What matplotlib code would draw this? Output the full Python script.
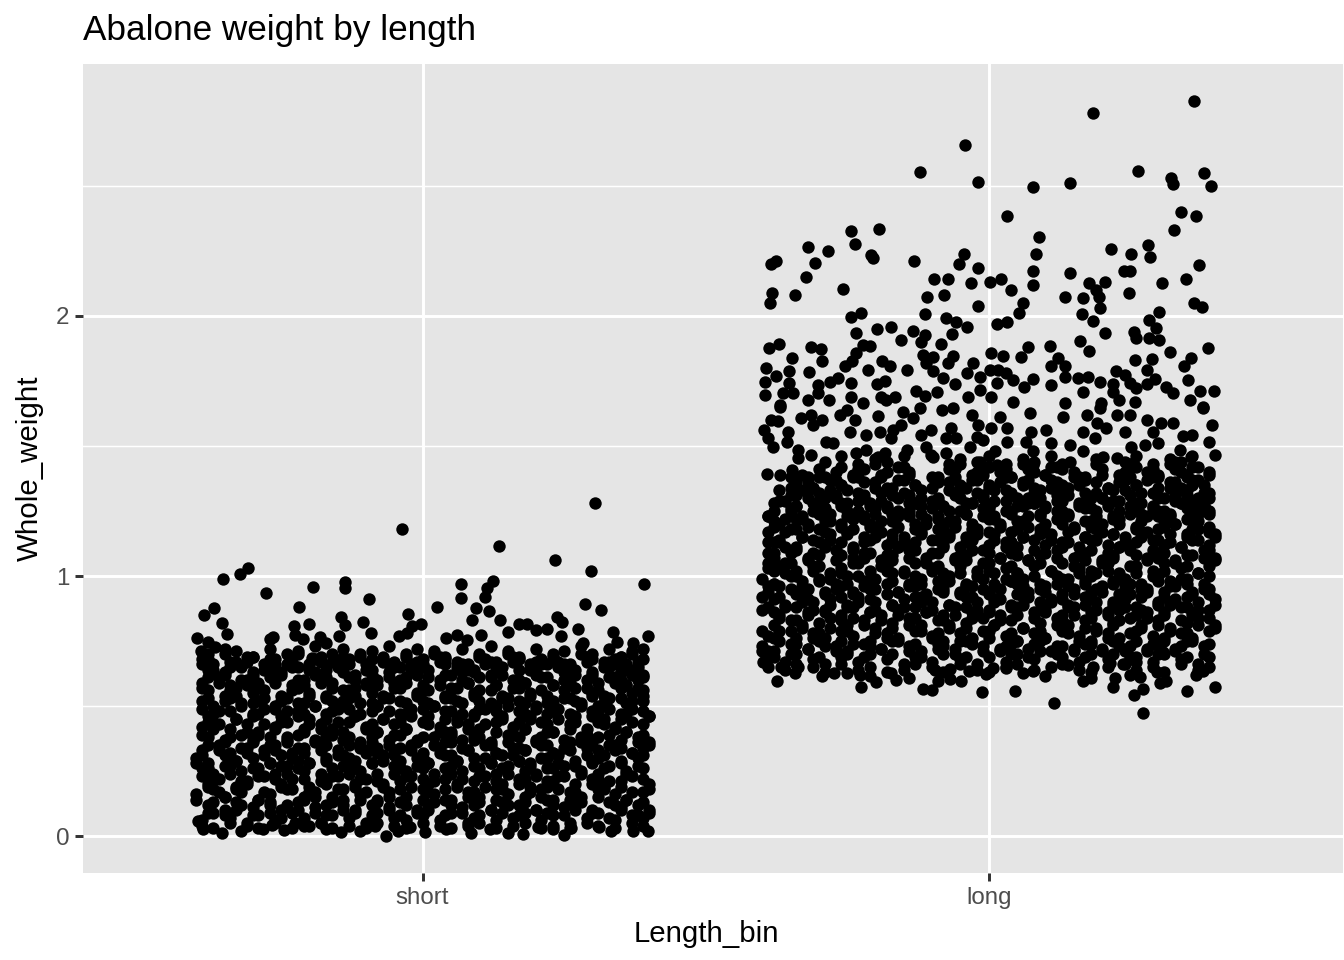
import numpy as np
import matplotlib
matplotlib.use('Agg')
import matplotlib.pyplot as plt

plt.rcParams['font.family'] = ['Liberation Sans', 'DejaVu Sans']

categories = ['short', 'long']
y_ticks = [0, 1, 2]
y_minor = [0.5, 1.5, 2.5]

# jitter offsets from the category centre and weights
# short: single points above the block
short_top_x = [-.037,.305,.135,.234,.298,.391,-.309,-.323,-.353,-.276,-.193,-.138,-.138,-.094,-.219,-.369,-.387,-.355,-.346,.067,.067,.124,.113,.11,.025,.286,.316,-.025,-.145,-.138,-.2,-.228,-.106,-.092,.094,.088,.117,.136,.171,.184,.15,.237,.246,.201,.219,.244,.274,.283,.337,.398,.371,.343,-.399,-.38,-.366,-.392,-.265,-.27,-.226,-.212,-.182,-.17,-.147,-.041,-.028,-.018,-.002,.104,.06,.042,.078,-.196]
short_top_y = [1.18,1.28,1.115,1.06,1.02,.97,1.03,1.007,.988,.935,.957,.977,.954,.911,.881,.877,.85,.819,.777,.969,.915,.981,.954,.919,.881,.892,.869,.854,.842,.812,.815,.808,.823,.781,.877,.831,.865,.831,.815,.815,.785,.842,.823,.792,.796,.769,.796,.742,.785,.769,.742,.746,.762,.746,.727,.712,.765,.758,.773,.758,.765,.742,.769,.769,.781,.808,.815,.773,.773,.762,.754,.685]

# short: bottom edge of the block
short_low_x = [-.397,-.388,-.354,-.321,-.282,-.266,-.245,-.226,-.2,-.17,-.144,-.111,-.085,-.065,-.044,-.023,.004,.042,.086,.119,.15,.177,.203,.231,.249,.263,.311,.333,.371,.398]
short_low_y = [.059,.026,.013,.019,.026,.042,.023,.049,.038,.026,.017,.02,.038,0,.02,.036,.017,.026,.013,.028,.013,.008,.036,.028,.005,.03,.034,.02,.018,.02]

# short: dense block
short_core_x = [
-.39,-.37,-.34,-.31,-.29,-.26,-.23,-.21,-.18,-.16,-.13,-.10,-.08,-.05,-.03,.00,.03,.05,.08,.10,.13,.16,.18,.21,.23,.26,.29,.31,.34,.37,.39,
-.38,-.35,-.33,-.30,-.27,-.25,-.22,-.19,-.17,-.14,-.12,-.09,-.06,-.04,-.01,.01,.04,.07,.09,.12,.14,.17,.20,.22,.25,.27,.30,.33,.35,.38,.40,
-.40,-.37,-.35,-.32,-.29,-.27,-.24,-.21,-.19,-.16,-.14,-.11,-.08,-.06,-.03,.00,.02,.05,.08,.10,.13,.15,.18,.21,.23,.26,.28,.31,.34,.36,.39,
-.38,-.36,-.33,-.31,-.28,-.25,-.23,-.20,-.17,-.15,-.12,-.10,-.07,-.04,-.02,.01,.04,.06,.09,.11,.14,.17,.19,.22,.24,.27,.30,.32,.35,.37,.40,
-.39,-.37,-.34,-.32,-.29,-.26,-.24,-.21,-.18,-.16,-.13,-.11,-.08,-.05,-.03,.00,.02,.05,.07,.10,.13,.15,.18,.20,.23,.25,.28,.31,.33,.36,.39,
-.40,-.38,-.35,-.33,-.30,-.27,-.25,-.22,-.20,-.17,-.14,-.12,-.09,-.07,-.04,-.01,.01,.04,.06,.09,.12,.14,.17,.19,.22,.24,.27,.30,.32,.35,.38,
-.39,-.36,-.34,-.31,-.28,-.26,-.23,-.21,-.18,-.15,-.13,-.10,-.08,-.05,-.02,.00,.03,.05,.08,.11,.13,.16,.18,.21,.23,.26,.29,.31,.34,.37,.39,
-.38,-.35,-.32,-.30,-.27,-.24,-.22,-.19,-.17,-.14,-.11,-.09,-.06,-.04,-.01,.02,.04,.07,.09,.12,.15,.17,.20,.22,.25,.28,.30,.33,.35,.38,.40,
-.39,-.37,-.34,-.31,-.29,-.26,-.24,-.21,-.18,-.16,-.13,-.10,-.08,-.05,-.03,.00,.03,.05,.08,.10,.13,.16,.18,.21,.23,.26,.29,.31,.34,.36,.39,
-.38,-.36,-.33,-.30,-.28,-.25,-.22,-.20,-.17,-.15,-.12,-.09,-.07,-.04,-.02,.01,.04,.06,.09,.11,.14,.17,.19,.22,.24,.27,.30,.32,.35,.37,.40,
-.39,-.37,-.34,-.32,-.29,-.26,-.24,-.21,-.19,-.16,-.13,-.11,-.08,-.06,-.03,.00,.02,.05,.07,.10,.13,.15,.18,.20,.23,.26,.28,.31,.33,.36,.39,
-.38,-.35,-.33,-.30,-.28,-.25,-.22,-.20,-.17,-.14,-.12,-.09,-.07,-.04,-.01,.01,.04,.06,.09,.12,.14,.17,.19,.22,.25,.27,.30,.32,.35,.37,.39,
-.39,-.36,-.34,-.31,-.29,-.26,-.23,-.21,-.18,-.16,-.13,-.10,-.08,-.05,-.03,.00,.03,.05,.08,.10,.13,.16,.18,.21,.23,.26,.29,.31,.34,.36,.38,
-.38,-.35,-.32,-.30,-.27,-.25,-.22,-.19,-.17,-.14,-.12,-.09,-.06,-.04,-.01,.01,.04,.07,.09,.12,.14,.17,.20,.22,.25,.27,.30,.33,.35,.37,.39,
-.39,-.37,-.34,-.31,-.28,-.26,-.23,-.20,-.18,-.15,-.13,-.10,-.07,-.05,-.02,.00,.03,.06,.08,.11,.13,.16,.19,.21,.24,.26,.29,.32,.34,.36,.38,
-.38,-.35,-.33,-.30,-.27,-.24,-.22,-.19,-.16,-.14,-.11,-.09,-.06,-.03,-.01,.02,.04,.07,.10,.12,.15,.17,.20,.23,.25,.28,.30,.33,.35,.37,.39,
]
short_core_y = [
.06,.09,.07,.05,.08,.06,.09,.07,.05,.08,.07,.05,.09,.07,.06,.08,.06,.09,.05,.08,.06,.07,.09,.06,.08,.05,.07,.09,.06,.08,.07,
.12,.10,.13,.11,.12,.10,.13,.11,.12,.14,.10,.12,.11,.13,.10,.12,.14,.11,.12,.10,.13,.12,.10,.14,.11,.12,.10,.13,.11,.12,.10,
.16,.18,.15,.17,.14,.16,.18,.15,.17,.15,.18,.16,.14,.17,.15,.18,.16,.14,.17,.15,.18,.16,.15,.18,.14,.17,.15,.18,.16,.14,.17,
.20,.22,.19,.21,.23,.20,.22,.19,.21,.23,.20,.22,.19,.21,.23,.20,.22,.19,.21,.23,.20,.22,.19,.21,.23,.20,.22,.19,.21,.23,.20,
.26,.24,.27,.25,.26,.24,.27,.25,.24,.26,.27,.25,.24,.27,.25,.26,.24,.27,.25,.26,.24,.27,.25,.24,.26,.27,.25,.24,.27,.25,.26,
.30,.28,.31,.29,.30,.28,.31,.29,.28,.30,.31,.29,.28,.31,.29,.30,.28,.31,.29,.30,.28,.31,.29,.28,.30,.31,.29,.28,.31,.29,.30,
.33,.35,.32,.34,.33,.35,.32,.34,.36,.33,.35,.32,.34,.33,.35,.32,.34,.36,.33,.35,.32,.34,.33,.35,.32,.36,.34,.33,.35,.32,.34,
.38,.36,.39,.37,.38,.36,.39,.37,.38,.40,.36,.38,.37,.39,.36,.38,.40,.37,.38,.36,.39,.38,.36,.40,.37,.38,.36,.39,.37,.38,.36,
.42,.44,.41,.43,.40,.42,.44,.41,.43,.41,.44,.42,.40,.43,.41,.44,.42,.40,.43,.41,.44,.42,.41,.44,.40,.43,.41,.44,.42,.40,.43,
.46,.48,.45,.47,.49,.46,.48,.45,.47,.49,.46,.48,.45,.47,.49,.46,.48,.45,.47,.49,.46,.48,.45,.47,.49,.46,.48,.45,.47,.49,.46,
.52,.50,.53,.51,.52,.50,.53,.51,.50,.52,.53,.51,.50,.53,.51,.52,.50,.53,.51,.52,.50,.53,.51,.50,.52,.53,.51,.50,.53,.51,.52,
.56,.54,.57,.55,.56,.54,.57,.55,.54,.56,.57,.55,.54,.57,.55,.56,.54,.57,.55,.56,.54,.57,.55,.54,.56,.57,.55,.54,.57,.55,.56,
.59,.61,.58,.60,.59,.61,.58,.60,.62,.59,.61,.58,.60,.59,.61,.58,.60,.62,.59,.61,.58,.60,.59,.61,.58,.62,.60,.59,.61,.58,.60,
.64,.62,.65,.63,.64,.62,.65,.63,.64,.66,.62,.64,.63,.65,.62,.64,.66,.63,.64,.62,.65,.64,.62,.66,.63,.64,.62,.65,.63,.64,.62,
.68,.66,.67,.69,.66,.68,.67,.66,.69,.67,.68,.66,.69,.67,.66,.68,.69,.67,.66,.68,.67,.69,.66,.68,.67,.66,.69,.67,.68,.66,.67,
.70,.72,.71,.69,.72,.70,.71,.73,.70,.72,.69,.71,.73,.70,.72,.71,.69,.72,.70,.73,.71,.69,.72,.70,.71,.73,.70,.72,.69,.71,.72,
]
# second column of weights for the same jitter offsets, fills the block
short_fill_y = [
.04,.03,.05,.04,.03,.05,.03,.04,.05,.03,.04,.03,.05,.04,.03,.05,.04,.03,.04,.05,.03,.04,.05,.03,.04,.03,.05,.04,.03,.05,.04,
.09,.08,.10,.08,.09,.07,.10,.09,.08,.10,.09,.08,.10,.08,.09,.10,.08,.09,.07,.10,.09,.08,.10,.09,.08,.10,.09,.07,.10,.08,.09,
.14,.13,.15,.12,.14,.13,.12,.14,.15,.13,.12,.14,.13,.15,.12,.14,.13,.12,.15,.13,.14,.12,.13,.15,.12,.14,.13,.15,.12,.14,.13,
.19,.17,.18,.20,.17,.19,.18,.17,.20,.18,.19,.17,.20,.18,.19,.17,.18,.20,.17,.19,.18,.20,.17,.19,.18,.17,.20,.18,.19,.17,.18,
.23,.22,.24,.21,.23,.22,.24,.22,.21,.23,.24,.22,.21,.24,.23,.22,.21,.24,.22,.23,.21,.24,.22,.23,.21,.23,.24,.22,.21,.24,.22,
.28,.26,.27,.29,.26,.28,.27,.26,.28,.29,.27,.26,.28,.29,.26,.27,.28,.26,.29,.27,.28,.26,.29,.27,.26,.28,.27,.29,.26,.28,.27,
.31,.33,.30,.32,.31,.33,.30,.32,.33,.31,.30,.33,.32,.31,.33,.30,.32,.31,.33,.30,.32,.31,.33,.30,.32,.33,.31,.30,.33,.32,.31,
.35,.37,.34,.36,.35,.37,.34,.36,.35,.37,.34,.36,.35,.34,.37,.35,.36,.34,.37,.35,.36,.34,.37,.35,.34,.36,.37,.35,.34,.36,.35,
.39,.41,.38,.40,.39,.41,.38,.40,.41,.39,.38,.41,.40,.39,.41,.38,.40,.39,.41,.38,.40,.39,.41,.38,.40,.41,.39,.38,.41,.40,.39,
.44,.43,.45,.46,.43,.44,.46,.43,.45,.44,.46,.43,.45,.44,.46,.43,.45,.44,.46,.43,.45,.44,.46,.43,.45,.44,.46,.43,.45,.44,.46,
.49,.47,.48,.50,.47,.49,.48,.47,.50,.48,.49,.47,.50,.48,.47,.49,.50,.48,.47,.49,.48,.50,.47,.49,.48,.47,.50,.48,.49,.47,.48,
.53,.52,.54,.51,.53,.52,.51,.54,.53,.52,.54,.51,.53,.52,.54,.51,.53,.52,.54,.51,.53,.52,.54,.51,.53,.52,.54,.51,.53,.52,.54,
.57,.59,.56,.58,.57,.59,.56,.58,.59,.57,.56,.59,.58,.57,.59,.56,.58,.57,.59,.56,.58,.57,.59,.56,.58,.59,.57,.56,.59,.58,.57,
.61,.63,.60,.62,.61,.63,.60,.62,.61,.63,.60,.62,.61,.60,.63,.61,.62,.60,.63,.61,.62,.60,.63,.61,.60,.62,.63,.61,.60,.62,.61,
.66,.64,.65,.67,.64,.66,.65,.64,.67,.65,.66,.64,.67,.65,.64,.66,.67,.65,.64,.66,.65,.67,.64,.66,.65,.64,.67,.65,.66,.64,.65,
.68,.70,.67,.69,.68,.66,.70,.68,.67,.69,.70,.68,.66,.69,.67,.70,.68,.66,.69,.67,.70,.68,.67,.69,.66,.70,.68,.67,.69,.70,.68,
]

# long: single points above the block
long_top_x = [.184,.363,-.042,-.122,-.018,.079,.143,.263,.323,.325,.38,.392,.033,.34,.366,.328,.089,-.193,-.243,-.237,-.32,-.284,-.376,-.384,-.306,-.322,-.207,-.205,-.132,-.043,-.052,-.019,.083,.079,.078,.216,.252,.281,.285,.371,.239,.249,.144,.178,.205,.19,.306,.349,-.097,-.071,-.032,.002,.021,.04,-.383,-.387,-.342,-.258,-.109,-.079,-.019,.06,.134,.166,.195,.248,.363,.377,.196,.301,.054,.165,-.226,-.244,-.113,-.075,-.057,-.039,.015,.032,.184,.284,.295,-.234,-.197,-.173,-.134,-.154,-.113,-.119,-.064,-.085,.205,.161,.178,.256,.261,.284,.301,-.37,-.388,-.314,-.296,-.222,-.21,.108,.07,.387,.32,.004,.025,.058,-.348,-.294,-.235,-.241,-.116,-.098,-.11,-.098,-.063,-.072,-.028,-.039,-.188,-.175,-.254,.258,.288,.358,.345,.122,.111,.134,-.393,-.375,-.352,-.318,-.213,-.145,.28,.225]
long_top_y = [2.782,2.828,2.659,2.553,2.517,2.495,2.51,2.558,2.53,2.507,2.55,2.501,2.384,2.4,2.384,2.332,2.304,2.335,2.326,2.276,2.265,2.251,2.213,2.2,2.204,2.151,2.235,2.222,2.211,2.238,2.2,2.185,2.24,2.174,2.121,2.256,2.237,2.272,2.228,2.196,2.174,2.174,2.167,2.125,2.131,2.1,2.125,2.142,2.144,2.142,2.125,2.13,2.141,2.101,2.09,2.051,2.082,2.104,2.073,2.082,2.039,2.051,2.073,2.07,2.074,2.09,2.051,2.033,2.03,2.014,2.013,2.007,2.01,1.998,2.007,1.991,1.978,1.959,1.968,1.978,1.981,1.985,1.955,1.933,1.95,1.958,1.943,1.908,1.927,1.899,1.932,1.893,1.933,1.905,1.866,1.94,1.914,1.914,1.908,1.891,1.876,1.882,1.873,1.888,1.886,1.886,1.882,1.875,1.86,1.859,1.846,1.844,1.84,1.827,1.857,1.827,1.85,1.844,1.818,1.79,1.847,1.818,1.818,1.78,1.827,1.809,1.809,1.831,1.835,1.84,1.808,1.84,1.808,1.809,1.799,1.769,1.79,1.784,1.792,1.792,1.792,1.79]

# long: looser band between about 1.4 and 1.78
long_mid_x = [-.266,-.281,-.244,-.198,-.184,-.059,-.081,-.016,.002,.016,.031,.043,.078,.111,.134,.158,.175,.196,.22,.24,.249,.293,.279,.314,.352,.373,.398,.355,.326,.261,.167,.062,.015,-.016,-.037,-.092,-.113,-.128,-.166,-.19,-.222,-.243,-.282,-.302,-.319,-.346,-.363,-.396,-.396,-.369,.043,.005,.134,.199,.231,.258,.379,-.181,-.302,-.352,.22,
-.369,-.384,-.372,-.397,-.39,-.381,-.354,-.357,-.337,-.337,-.331,-.313,-.295,-.31,-.287,-.275,-.313,-.263,-.251,-.236,-.245,-.216,-.234,-.216,-.195,-.192,-.169,-.154,-.172,-.183,-.195,-.145,-.151,-.133,-.122,-.119,-.101,-.11,-.098,-.083,-.063,-.066,-.075,-.057,-.075,-.03,-.019,-.021,-.033,-.01,.02,.032,.005,.032,.011,.073,.075,.102,.066,.079,.111,.132,.143,.167,.167,.188,.191,.208,.173,.196,.226,.249,.241,.252,.279,.291,.305,.326,.3,.276,.344,.36,.394,.39,.4,.338,.358,.329,.379,.202,.226,.255,.143,.079,-.016,.014,-.101,-.348,-.369,-.392]
long_mid_y = [1.76,1.745,1.741,1.738,1.75,1.737,1.76,1.767,1.792,1.792,1.78,1.754,1.756,1.735,1.767,1.763,1.767,1.747,1.738,1.773,1.741,1.758,1.738,1.725,1.754,1.711,1.711,1.677,1.703,1.722,1.709,1.728,1.741,1.715,1.69,1.709,1.693,1.713,1.69,1.687,1.667,1.69,1.677,1.703,1.677,1.703,1.703,1.696,1.747,1.658,1.67,1.69,1.664,1.664,1.677,1.67,1.649,1.677,1.735,1.741,1.709,
1.651,1.6,1.598,1.562,1.53,1.498,1.555,1.517,1.485,1.453,1.607,1.619,1.6,1.581,1.517,1.511,1.466,1.619,1.639,1.6,1.552,1.543,1.472,1.485,1.616,1.552,1.562,1.581,1.53,1.472,1.459,1.485,1.632,1.607,1.645,1.543,1.562,1.498,1.459,1.639,1.645,1.568,1.53,1.53,1.472,1.619,1.581,1.536,1.498,1.523,1.613,1.568,1.568,1.517,1.479,1.628,1.555,1.562,1.517,1.479,1.511,1.61,1.504,1.479,1.555,1.53,1.587,1.568,1.619,1.645,1.619,1.619,1.555,1.498,1.6,1.555,1.587,1.587,1.511,1.504,1.539,1.543,1.581,1.517,1.466,1.485,1.459,1.44,1.645,1.459,1.453,1.434,1.44,1.427,1.44,1.427,1.466,1.408,1.389,1.393]

# long: bottom edge of the block
long_low_x = [-.012,.046,.115,.272,.256,.273,.35,.399,-.374,-.225,-.116,-.1,.219,.314,.303,.297,.166,.181,-.048,-.069,-.09,-.094,-.069,-.035,-.004,.008,-.163,-.141,-.172,-.199,-.21,-.228,-.25,-.273,-.294,-.343,-.337,-.399,-.366,.1,.078,.06,.031,.14,.184,.223,.249,.267,.367,.379,.308,.214,.237,.261]
long_low_y = [.554,.559,.51,.474,.542,.565,.558,.574,.597,.572,.567,.562,.574,.597,.59,.632,.597,.607,.595,.605,.597,.638,.642,.634,.623,.645,.6,.607,.628,.593,.615,.619,.626,.626,.615,.626,.651,.671,.651,.615,.634,.628,.645,.658,.651,.607,.619,.61,.619,.635,.709,.664,.66,.668]

# long: dense block
long_core_x = [
-.39,-.36,-.34,-.31,-.29,-.26,-.23,-.21,-.18,-.15,-.13,-.10,-.08,-.05,-.02,.00,.03,.05,.08,.11,.13,.16,.18,.21,.24,.26,.29,.31,.34,.37,.39,
-.40,-.38,-.35,-.32,-.30,-.27,-.25,-.22,-.19,-.17,-.14,-.12,-.09,-.06,-.04,-.01,.02,.04,.07,.09,.12,.15,.17,.20,.22,.25,.28,.30,.33,.35,.38,
-.39,-.37,-.34,-.31,-.29,-.26,-.24,-.21,-.18,-.16,-.13,-.10,-.08,-.05,-.03,.00,.03,.05,.08,.10,.13,.16,.18,.21,.23,.26,.29,.31,.34,.36,.39,
-.38,-.35,-.33,-.30,-.28,-.25,-.22,-.20,-.17,-.14,-.12,-.09,-.07,-.04,-.01,.01,.04,.06,.09,.12,.14,.17,.19,.22,.25,.27,.30,.32,.35,.37,.40,
-.40,-.37,-.34,-.32,-.29,-.26,-.24,-.21,-.19,-.16,-.13,-.11,-.08,-.06,-.03,.00,.02,.05,.08,.10,.13,.15,.18,.21,.23,.26,.28,.31,.34,.36,.39,
-.38,-.36,-.33,-.31,-.28,-.25,-.23,-.20,-.17,-.15,-.12,-.10,-.07,-.04,-.02,.01,.04,.06,.09,.11,.14,.17,.19,.22,.24,.27,.30,.32,.35,.37,.40,
-.39,-.37,-.34,-.32,-.29,-.26,-.24,-.21,-.18,-.16,-.13,-.11,-.08,-.05,-.03,.00,.02,.05,.07,.10,.13,.15,.18,.20,.23,.25,.28,.31,.33,.36,.39,
-.40,-.38,-.35,-.33,-.30,-.27,-.25,-.22,-.20,-.17,-.14,-.12,-.09,-.07,-.04,-.01,.01,.04,.06,.09,.12,.14,.17,.19,.22,.24,.27,.30,.32,.35,.38,
-.39,-.36,-.34,-.31,-.28,-.26,-.23,-.21,-.18,-.15,-.13,-.10,-.08,-.05,-.02,.00,.03,.05,.08,.11,.13,.16,.18,.21,.23,.26,.29,.31,.34,.37,.39,
-.38,-.35,-.32,-.30,-.27,-.24,-.22,-.19,-.17,-.14,-.11,-.09,-.06,-.04,-.01,.02,.04,.07,.09,.12,.15,.17,.20,.22,.25,.28,.30,.33,.35,.38,.40,
-.39,-.37,-.34,-.31,-.29,-.26,-.24,-.21,-.18,-.16,-.13,-.10,-.08,-.05,-.03,.00,.03,.05,.08,.10,.13,.16,.18,.21,.23,.26,.29,.31,.34,.36,.39,
-.38,-.36,-.33,-.30,-.28,-.25,-.22,-.20,-.17,-.15,-.12,-.09,-.07,-.04,-.02,.01,.04,.06,.09,.11,.14,.17,.19,.22,.24,.27,.30,.32,.35,.37,.40,
-.39,-.37,-.34,-.32,-.29,-.26,-.24,-.21,-.19,-.16,-.13,-.11,-.08,-.06,-.03,.00,.02,.05,.07,.10,.13,.15,.18,.20,.23,.26,.28,.31,.33,.36,.39,
-.38,-.35,-.33,-.30,-.28,-.25,-.22,-.20,-.17,-.14,-.12,-.09,-.07,-.04,-.01,.01,.04,.06,.09,.12,.14,.17,.19,.22,.25,.27,.30,.32,.35,.37,.39,
-.39,-.36,-.34,-.31,-.29,-.26,-.23,-.21,-.18,-.16,-.13,-.10,-.08,-.05,-.03,.00,.03,.05,.08,.10,.13,.16,.18,.21,.23,.26,.29,.31,.34,.36,.38,
-.38,-.35,-.32,-.30,-.27,-.25,-.22,-.19,-.17,-.14,-.12,-.09,-.06,-.04,-.01,.01,.04,.07,.09,.12,.14,.17,.20,.22,.25,.27,.30,.33,.35,.37,.39,
-.37,-.34,-.31,-.28,-.26,-.23,-.20,-.18,-.15,-.13,-.10,-.07,-.05,-.02,.00,.03,.06,.08,.11,.13,.16,.19,.21,.24,.26,.29,.32,.34,.36,.38,
-.35,-.33,-.30,-.27,-.24,-.22,-.19,-.16,-.14,-.09,-.06,-.03,-.01,.02,.04,.07,.10,.12,.15,.17,.20,.23,.25,.28,.30,.33,.35,.37,.39,
-.32,-.29,-.26,-.23,-.20,-.18,-.15,-.07,-.05,-.02,.00,.03,.06,.08,.11,.13,.19,.24,.26,.29,.32,.34,.36,
]
long_core_y = [
.69,.67,.70,.68,.66,.69,.67,.70,.68,.66,.69,.67,.70,.68,.66,.69,.67,.70,.68,.71,.69,.67,.70,.68,.71,.69,.67,.70,.68,.66,.69,
.73,.71,.74,.72,.75,.73,.71,.74,.72,.75,.73,.71,.74,.72,.75,.73,.71,.74,.72,.75,.73,.71,.74,.72,.75,.73,.71,.74,.72,.75,.73,
.77,.79,.76,.78,.76,.79,.77,.75,.78,.76,.79,.77,.75,.78,.76,.79,.77,.75,.78,.76,.79,.77,.75,.78,.76,.79,.77,.75,.78,.76,.79,
.81,.83,.80,.82,.84,.81,.83,.80,.82,.84,.81,.83,.80,.82,.84,.81,.83,.80,.82,.84,.81,.83,.80,.82,.84,.81,.83,.80,.82,.84,.81,
.87,.85,.88,.86,.87,.85,.88,.86,.85,.87,.88,.86,.85,.88,.86,.87,.85,.88,.86,.87,.85,.88,.86,.85,.87,.88,.86,.85,.88,.86,.87,
.91,.89,.92,.90,.91,.89,.92,.90,.89,.91,.92,.90,.89,.92,.90,.91,.89,.92,.90,.91,.89,.92,.90,.89,.91,.92,.90,.89,.92,.90,.91,
.94,.96,.93,.95,.94,.96,.93,.95,.97,.94,.96,.93,.95,.94,.96,.93,.95,.97,.94,.96,.93,.95,.94,.96,.93,.97,.95,.94,.96,.93,.95,
.99,.97,1.00,.98,.99,.97,1.00,.98,.99,1.01,.97,.99,.98,1.00,.97,.99,1.01,.98,.99,.97,1.00,.99,.97,1.01,.98,.99,.97,1.00,.98,.99,.97,
1.03,1.05,1.02,1.04,1.01,1.03,1.05,1.02,1.04,1.02,1.05,1.03,1.01,1.04,1.02,1.05,1.03,1.01,1.04,1.02,1.05,1.03,1.02,1.05,1.01,1.04,1.02,1.05,1.03,1.01,1.04,
1.07,1.09,1.06,1.08,1.10,1.07,1.09,1.06,1.08,1.10,1.07,1.09,1.06,1.08,1.10,1.07,1.09,1.06,1.08,1.10,1.07,1.09,1.06,1.08,1.10,1.07,1.09,1.06,1.08,1.10,1.07,1.09,
1.13,1.11,1.14,1.12,1.13,1.11,1.14,1.12,1.11,1.13,1.14,1.12,1.11,1.14,1.12,1.13,1.11,1.14,1.12,1.13,1.11,1.14,1.12,1.11,1.13,1.14,1.12,1.11,1.14,1.12,1.13,
1.17,1.15,1.18,1.16,1.17,1.15,1.18,1.16,1.15,1.17,1.18,1.16,1.15,1.18,1.16,1.17,1.15,1.18,1.16,1.17,1.15,1.18,1.16,1.15,1.17,1.18,1.16,1.15,1.18,1.16,1.17,
1.20,1.22,1.19,1.21,1.20,1.22,1.19,1.21,1.23,1.20,1.22,1.19,1.21,1.20,1.22,1.19,1.21,1.23,1.20,1.22,1.19,1.21,1.20,1.22,1.19,1.23,1.21,1.20,1.22,1.19,1.21,
1.25,1.23,1.26,1.24,1.25,1.23,1.26,1.24,1.25,1.27,1.23,1.25,1.24,1.26,1.23,1.25,1.27,1.24,1.25,1.23,1.26,1.25,1.23,1.27,1.24,1.25,1.23,1.26,1.24,1.25,1.23,
1.29,1.27,1.28,1.30,1.27,1.29,1.28,1.27,1.30,1.28,1.29,1.27,1.30,1.28,1.27,1.29,1.30,1.28,1.27,1.29,1.28,1.30,1.27,1.29,1.28,1.27,1.30,1.28,1.29,1.27,1.28,
1.31,1.33,1.32,1.30,1.33,1.31,1.32,1.34,1.31,1.33,1.30,1.32,1.34,1.31,1.33,1.32,1.30,1.33,1.31,1.34,1.32,1.30,1.33,1.31,1.32,1.34,1.31,1.33,1.30,1.32,1.33,
1.36,1.34,1.37,1.35,1.38,1.36,1.34,1.37,1.35,1.38,1.36,1.34,1.37,1.35,1.38,1.36,1.34,1.37,1.35,1.38,1.36,1.34,1.37,1.35,1.38,1.36,1.34,1.37,1.35,1.38,
1.39,1.41,1.40,1.38,1.41,1.39,1.42,1.40,1.38,1.41,1.39,1.42,1.40,1.38,1.41,1.39,1.42,1.40,1.38,1.41,1.39,1.42,1.40,1.38,1.41,1.39,1.42,1.40,1.38,
1.44,1.46,1.43,1.45,1.44,1.46,1.43,1.45,1.44,1.46,1.43,1.45,1.44,1.46,1.43,1.45,1.44,1.46,1.43,1.45,1.44,1.46,1.43,
]
# second column of weights for the same jitter offsets, fills the block
long_fill_y = [
.65,.64,.66,.65,.63,.66,.64,.65,.63,.64,.66,.65,.63,.66,.64,.63,.65,.66,.64,.65,.66,.64,.63,.65,.66,.64,.65,.63,.66,.64,.65,
.71,.69,.70,.72,.69,.71,.70,.69,.72,.70,.71,.69,.72,.70,.69,.71,.72,.70,.69,.71,.70,.72,.69,.71,.70,.69,.72,.70,.71,.69,.70,.71,
.75,.74,.76,.73,.75,.74,.73,.76,.75,.74,.76,.73,.75,.74,.76,.73,.75,.74,.76,.73,.75,.74,.76,.73,.75,.74,.76,.73,.75,.74,.76,
.79,.81,.78,.80,.79,.81,.78,.80,.81,.79,.78,.81,.80,.79,.81,.78,.80,.79,.81,.78,.80,.79,.81,.78,.80,.81,.79,.78,.81,.80,.79,
.84,.83,.85,.86,.83,.84,.86,.83,.85,.84,.86,.83,.85,.84,.86,.83,.85,.84,.86,.83,.85,.84,.86,.83,.85,.84,.86,.83,.85,.84,.86,
.88,.90,.87,.89,.88,.90,.87,.89,.88,.90,.87,.89,.88,.87,.90,.88,.89,.87,.90,.88,.89,.87,.90,.88,.87,.89,.90,.88,.87,.89,.88,
.92,.94,.91,.93,.92,.94,.91,.93,.94,.92,.91,.94,.93,.92,.94,.91,.93,.92,.94,.91,.93,.92,.94,.91,.93,.94,.92,.91,.94,.93,.92,
.97,.95,.96,.98,.95,.97,.96,.95,.98,.96,.97,.95,.98,.96,.95,.97,.98,.96,.95,.97,.96,.98,.95,.97,.96,.95,.98,.96,.97,.95,.96,
1.01,1.00,1.02,.99,1.01,1.00,.99,1.02,1.01,1.00,1.02,.99,1.01,1.00,1.02,.99,1.01,1.00,1.02,.99,1.01,1.00,1.02,.99,1.01,1.00,1.02,.99,1.01,1.00,1.02,
1.05,1.07,1.04,1.06,1.05,1.07,1.04,1.06,1.07,1.05,1.04,1.07,1.06,1.05,1.07,1.04,1.06,1.05,1.07,1.04,1.06,1.05,1.07,1.04,1.06,1.07,1.05,1.04,1.07,1.06,1.05,1.04,
1.10,1.09,1.11,1.08,1.10,1.09,1.08,1.11,1.10,1.09,1.11,1.08,1.10,1.09,1.11,1.08,1.10,1.09,1.11,1.08,1.10,1.09,1.11,1.08,1.10,1.09,1.11,1.08,1.10,1.09,1.11,
1.15,1.13,1.14,1.16,1.13,1.15,1.14,1.13,1.16,1.14,1.15,1.13,1.16,1.14,1.13,1.15,1.16,1.14,1.13,1.15,1.14,1.16,1.13,1.15,1.14,1.13,1.16,1.14,1.15,1.13,1.14,
1.18,1.20,1.17,1.19,1.18,1.20,1.17,1.19,1.18,1.20,1.17,1.19,1.18,1.17,1.20,1.18,1.19,1.17,1.20,1.18,1.19,1.17,1.20,1.18,1.17,1.19,1.20,1.18,1.17,1.19,1.18,
1.22,1.24,1.21,1.23,1.22,1.24,1.21,1.23,1.24,1.22,1.21,1.24,1.23,1.22,1.24,1.21,1.23,1.22,1.24,1.21,1.23,1.22,1.24,1.21,1.23,1.24,1.22,1.21,1.24,1.23,1.22,
1.27,1.25,1.26,1.28,1.25,1.27,1.26,1.25,1.28,1.26,1.27,1.25,1.28,1.26,1.25,1.27,1.28,1.26,1.25,1.27,1.26,1.28,1.25,1.27,1.26,1.25,1.28,1.26,1.27,1.25,1.26,
1.30,1.29,1.31,1.28,1.30,1.29,1.31,1.28,1.30,1.29,1.31,1.28,1.30,1.29,1.31,1.28,1.30,1.29,1.31,1.28,1.30,1.29,1.31,1.28,1.30,1.29,1.31,1.28,1.30,1.29,1.31,
1.34,1.33,1.35,1.32,1.34,1.33,1.32,1.35,1.34,1.33,1.35,1.32,1.34,1.33,1.35,1.32,1.34,1.33,1.35,1.32,1.34,1.33,1.35,1.32,1.34,1.33,1.35,1.32,1.34,1.33,
1.38,1.37,1.39,1.36,1.38,1.37,1.39,1.36,1.38,1.37,1.39,1.36,1.38,1.37,1.39,1.36,1.38,1.37,1.39,1.36,1.38,1.37,1.39,1.36,1.38,1.37,1.39,1.36,1.38,
1.42,1.41,1.43,1.40,1.42,1.41,1.43,1.40,1.42,1.41,1.43,1.40,1.42,1.41,1.43,1.40,1.42,1.41,1.43,1.40,1.42,1.41,1.43,
]

n_sc = min(len(short_core_x), len(short_core_y))
n_sf = min(len(short_core_x), len(short_fill_y))
n_lc = min(len(long_core_x), len(long_core_y))
n_lf = min(len(long_core_x), len(long_fill_y))
short_x = np.array(short_top_x + short_low_x + short_core_x[:n_sc] + short_core_x[:n_sf])
short_y = np.array(short_top_y + short_low_y + short_core_y[:n_sc] + short_fill_y[:n_sf])
long_x = np.array(long_top_x + long_mid_x + long_low_x + long_core_x[:n_lc] + long_core_x[:n_lf])
long_y = np.array(long_top_y + long_mid_y + long_low_y + long_core_y[:n_lc] + long_fill_y[:n_lf])
print(len(short_x), len(short_y), len(long_x), len(long_y))

fig = plt.figure(figsize=(6.72, 4.8), dpi=200)
ax = fig.add_axes([83/1344, 1 - 873/960, (1343 - 83)/1344, (873 - 64)/960])
ax.set_facecolor('#E5E5E5')
for s in ax.spines.values():
    s.set_visible(False)

ax.scatter(1 + short_x, short_y, s=20, c='black', linewidths=0, zorder=3)
ax.scatter(2 + long_x, long_y, s=20, c='black', linewidths=0, zorder=3)

ax.set_xlim(0.4, 2.626)
ax.set_ylim(-0.142, 2.969)
ax.set_xticks([1, 2])
ax.set_xticklabels(categories)
ax.set_yticks(y_ticks)
ax.set_yticks(y_minor, minor=True)
ax.set_axisbelow(True)
ax.grid(True, which='major', color='white', linewidth=1.07)
ax.grid(True, which='minor', axis='y', color='white', linewidth=0.53)
ax.tick_params(axis='both', which='major', length=2.75, width=1.07, color='#333333',
               labelcolor='#4D4D4D', labelsize=8.7, pad=2.2)
ax.tick_params(axis='y', which='minor', length=0)

ax.set_xlabel('Length_bin', fontsize=10.6, labelpad=2.75)
ax.xaxis.set_label_coords((706 - 83)/1260, -0.058)
ax.set_ylabel('Whole_weight', fontsize=10.65, labelpad=4.2)
ax.set_title('Abalone weight by length', fontsize=12.65, loc='left', pad=8.7)

fig.savefig('out.png', dpi=200)
